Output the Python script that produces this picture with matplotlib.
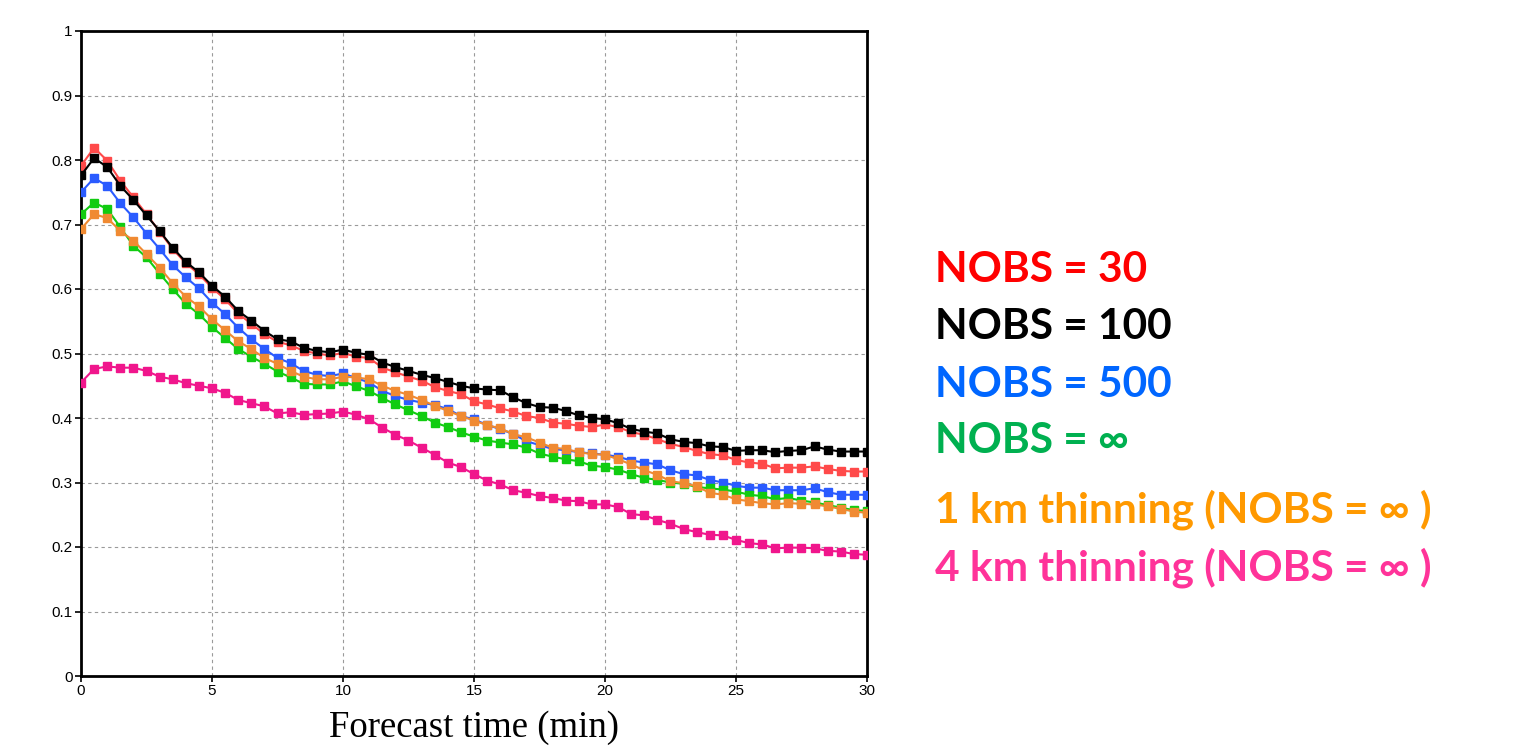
import numpy as np
import matplotlib
matplotlib.use("Agg")
import matplotlib.pyplot as plt

t = np.arange(0, 30.01, 0.5)

nobs30 = [0.791, 0.819, 0.799, 0.768, 0.742, 0.716, 0.689, 0.662, 0.640, 0.623,
          0.602, 0.584, 0.562, 0.546, 0.530, 0.518, 0.513, 0.504, 0.500, 0.497,
          0.501, 0.495, 0.493, 0.478, 0.471, 0.464, 0.458, 0.448, 0.442, 0.437,
          0.426, 0.421, 0.415, 0.410, 0.403, 0.400, 0.393, 0.391, 0.388, 0.386,
          0.390, 0.386, 0.378, 0.374, 0.367, 0.360, 0.355, 0.349, 0.344, 0.342,
          0.335, 0.331, 0.329, 0.322, 0.323, 0.323, 0.325, 0.321, 0.318, 0.317,
          0.317]
nobs100 = [0.776, 0.803, 0.789, 0.760, 0.738, 0.714, 0.690, 0.664, 0.642, 0.626,
           0.605, 0.588, 0.566, 0.551, 0.535, 0.522, 0.519, 0.509, 0.504, 0.502,
           0.506, 0.501, 0.498, 0.486, 0.479, 0.473, 0.467, 0.462, 0.456, 0.450,
           0.446, 0.444, 0.443, 0.432, 0.423, 0.417, 0.416, 0.411, 0.404, 0.400,
           0.398, 0.392, 0.383, 0.379, 0.376, 0.367, 0.363, 0.361, 0.356, 0.355,
           0.349, 0.350, 0.350, 0.347, 0.349, 0.350, 0.356, 0.351, 0.348, 0.348,
           0.348]
nobs500 = [0.750, 0.772, 0.760, 0.733, 0.711, 0.686, 0.662, 0.637, 0.618, 0.601,
           0.579, 0.561, 0.540, 0.522, 0.507, 0.493, 0.485, 0.473, 0.467, 0.465,
           0.469, 0.462, 0.455, 0.442, 0.434, 0.428, 0.424, 0.420, 0.414, 0.403,
           0.398, 0.389, 0.383, 0.375, 0.364, 0.358, 0.352, 0.350, 0.347, 0.345,
           0.343, 0.340, 0.334, 0.331, 0.328, 0.319, 0.313, 0.311, 0.304, 0.300,
           0.295, 0.292, 0.292, 0.288, 0.288, 0.288, 0.291, 0.285, 0.281, 0.281,
           0.281]
nobs_inf = [0.716, 0.734, 0.724, 0.696, 0.667, 0.649, 0.624, 0.600, 0.577, 0.561,
            0.541, 0.524, 0.507, 0.495, 0.484, 0.472, 0.463, 0.453, 0.452, 0.452,
            0.457, 0.449, 0.442, 0.431, 0.421, 0.412, 0.403, 0.393, 0.386, 0.378,
            0.371, 0.365, 0.362, 0.359, 0.354, 0.345, 0.340, 0.336, 0.333, 0.326,
            0.324, 0.320, 0.313, 0.307, 0.304, 0.300, 0.298, 0.293, 0.291, 0.289,
            0.286, 0.281, 0.279, 0.274, 0.276, 0.272, 0.269, 0.265, 0.261, 0.257,
            0.256]
thin1km = [0.693, 0.716, 0.710, 0.690, 0.675, 0.654, 0.633, 0.609, 0.588, 0.573,
           0.553, 0.536, 0.519, 0.507, 0.493, 0.484, 0.473, 0.464, 0.460, 0.460,
           0.464, 0.463, 0.460, 0.450, 0.442, 0.436, 0.428, 0.419, 0.411, 0.403,
           0.396, 0.389, 0.384, 0.375, 0.370, 0.362, 0.354, 0.352, 0.347, 0.344,
           0.343, 0.336, 0.328, 0.319, 0.312, 0.302, 0.299, 0.294, 0.284, 0.281,
           0.274, 0.271, 0.268, 0.266, 0.268, 0.267, 0.266, 0.263, 0.259, 0.255,
           0.253]
thin4km = [0.455, 0.476, 0.480, 0.478, 0.478, 0.473, 0.464, 0.460, 0.454, 0.450,
           0.446, 0.439, 0.428, 0.423, 0.418, 0.407, 0.409, 0.405, 0.406, 0.407,
           0.410, 0.405, 0.398, 0.385, 0.374, 0.365, 0.354, 0.343, 0.331, 0.324,
           0.313, 0.303, 0.297, 0.288, 0.284, 0.279, 0.276, 0.272, 0.271, 0.266,
           0.266, 0.262, 0.251, 0.249, 0.242, 0.236, 0.228, 0.223, 0.219, 0.218,
           0.211, 0.206, 0.204, 0.198, 0.199, 0.199, 0.198, 0.194, 0.193, 0.189,
           0.188]

labels = ["NOBS = 30", "NOBS = 100", "NOBS = 500", "NOBS = \u221e",
          "1 km thinning (NOBS = \u221e )", "4 km thinning (NOBS = \u221e )"]
series = [nobs30, nobs100, nobs500, nobs_inf, thin1km, thin4km]
line_colors = ["#FF4A4A", "#000000", "#2A5BFF", "#11CC11", "#F08A32", "#F0168C"]
text_colors = ["#FF0000", "#000000", "#0066FF", "#00B050", "#FF9900", "#FF3399"]
draw_order = [5, 0, 1, 3, 2, 4]

fig = plt.figure(figsize=(15.33, 7.46), dpi=100)
ax = fig.add_axes([81/1533, 70/746, 786/1533, 645/746])

for i in draw_order:
    ax.plot(t, series[i], color=line_colors[i], lw=1.5, marker="s", ms=5.5,
            mec=line_colors[i], mfc=line_colors[i], zorder=3 + i * 0.01)

ax.set_xlim(0, 30)
ax.set_ylim(0, 1)
ax.set_xticks(np.arange(0, 31, 5))
ax.set_yticks(np.round(np.arange(0, 1.01, 0.1), 1))
ax.set_yticklabels(["0", "0.1", "0.2", "0.3", "0.4", "0.5", "0.6", "0.7", "0.8", "0.9", "1"])
ax.grid(True, color="#9a9a9a", ls=(0, (3, 3)), lw=0.8)
for s in ax.spines.values():
    s.set_linewidth(2)
ax.tick_params(direction="out", length=4, width=1.2, labelsize=11, pad=2)
for lab in ax.get_xticklabels() + ax.get_yticklabels():
    lab.set_fontfamily("Liberation Sans")

ax.set_xlabel("Forecast time (min)", fontsize=26.5, family="Liberation Serif", labelpad=9)

ys = [270, 327, 385, 441, 510, 568]
for lab, c, y in zip(labels, text_colors, ys):
    fig.text(935/1533, 1 - y/746, lab, color=c, fontsize=30.5, fontweight="bold",
             family=["Lato", "DejaVu Sans"], va="center", ha="left")

fig.savefig("out.png", dpi=100)
